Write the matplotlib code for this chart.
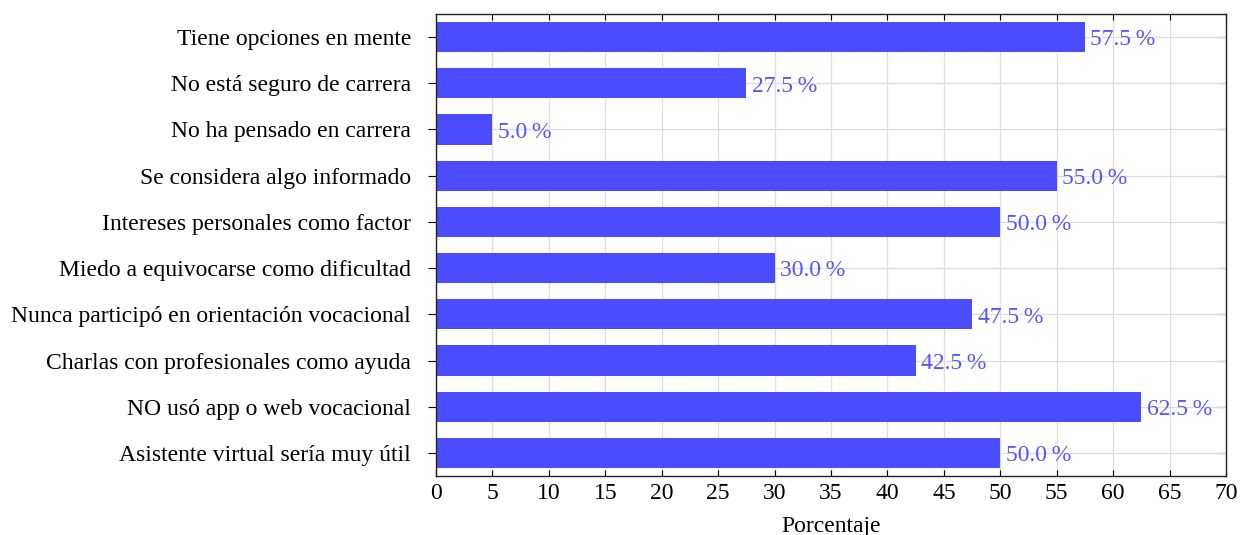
import matplotlib.pyplot as plt
import numpy as np

categories = [
    "Tiene opciones en mente",
    "No está seguro de carrera",
    "No ha pensado en carrera",
    "Se considera algo informado",
    "Intereses personales como factor",
    "Miedo a equivocarse como dificultad",
    "Nunca participó en orientación vocacional",
    "Charlas con profesionales como ayuda",
    "NO usó app o web vocacional",
    "Asistente virtual sería muy útil",
]
values = [57.5, 27.5, 5.0, 55.0, 50.0, 30.0, 47.5, 42.5, 62.5, 50.0]
xticks = list(range(0, 75, 5))

plt.rcParams["font.family"] = ["Liberation Serif", "DejaVu Serif"]
bar_color = "#4b4bff"

fig = plt.figure(figsize=(12.4, 5.35), dpi=100)
ax = fig.add_axes([436 / 1240, 1 - 476 / 535, (1226 - 436) / 1240, (476 - 14) / 535])

pos = np.arange(len(categories))
ax.barh(pos, values, height=0.65, color=bar_color, zorder=2)
for p, v in zip(pos, values):
    ax.annotate(f"{v:.1f}\u2009%", (v, p), xytext=(4, -2), textcoords="offset points",
                va="center", ha="left", fontsize=17, color="#5555ff", zorder=3)

ax.set_xlim(0, 70)
ax.set_ylim(len(categories) - 0.5, -0.5)
ax.set_xticks(xticks)
ax.set_yticks(pos)
ax.set_yticklabels(categories, fontsize=17)
ax.tick_params(axis="x", labelsize=17, direction="in", top=True, length=4, width=0.8, pad=5)
ax.tick_params(axis="y", direction="out", length=6, width=0.8, pad=12)
ax.grid(True, color="#dddddd", linewidth=0.9, zorder=0)
ax.set_axisbelow(True)
for s in ax.spines.values():
    s.set_linewidth(1.0)
    s.set_color("#222222")

sec = ax.secondary_yaxis("right")
sec.set_yticks(pos)
sec.set_yticklabels([])
sec.tick_params(direction="in", length=6, width=0.8)
sec.spines["right"].set_visible(False)

ax.set_xlabel("Porcentaje", fontsize=17, labelpad=9)

fig.savefig("out.png", dpi=100)
